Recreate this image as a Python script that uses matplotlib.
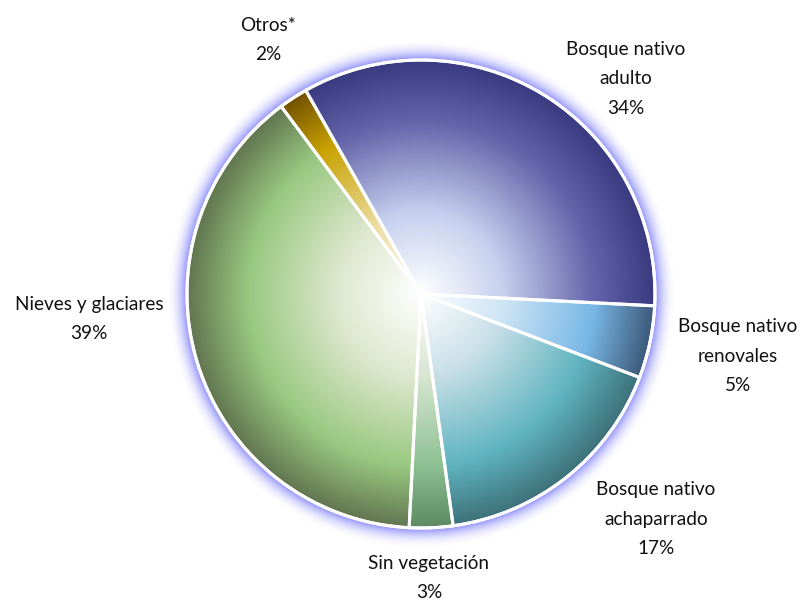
import numpy as np
import matplotlib
matplotlib.use("Agg")
import matplotlib.pyplot as plt
from matplotlib import font_manager
from matplotlib.colors import LinearSegmentedColormap, to_rgb

# ==============================
# Data
# ==============================
categories = ["Bosque nativo\nadulto", "Otros*", "Nieves y glaciares",
              "Sin vegetación", "Bosque nativo\nachaparrado", "Bosque nativo\nrenovales"]
shares = [34, 2, 39, 3, 17, 5]
pct_labels = ["34%", "2%", "39%", "3%", "17%", "5%"]

# colours: light inner tone, mid tone and dark rim tone for each slice
inner_colors = ["#c6d0ee", "#ecdca0", "#dfe8cf", "#d8e6d2", "#c8dfe8", "#cfe5f5"]
base_colors = ["#6464aa", "#c9a200", "#98c880", "#8cc092", "#5fb4bf", "#78b8e6"]
rim_colors = ["#3a3a80", "#735200", "#627650", "#5d8a62", "#3e727a", "#3e5a7a"]

# label anchor positions (pixels, top-left origin)
label_pos = [(626, 79), (268, 40), (89, 319), (429, 578), (656, 519), (738, 356)]

W, H = 801, 601
cx, cy, R = 421, 601 - 294, 234
start_angle = -2.9

available = {f.name for f in font_manager.fontManager.ttflist}
font = "Lato" if "Lato" in available else "DejaVu Sans"
plt.rcParams['font.family'] = [font, 'DejaVu Sans']

fig = plt.figure(figsize=(W / 100, H / 100), dpi=100)
ax = fig.add_axes([0, 0, 1, 1])

# ==============================
# Glow around the pie
# ==============================
pad = 50
xs = np.linspace(cx - R - pad, cx + R + pad, 700)
ys = np.linspace(cy - R - pad, cy + R + pad, 700)
XX, YY = np.meshgrid(xs, ys)
rr = np.hypot(XX - cx, YY - cy)
glow = np.zeros(rr.shape + (4,))
glow[..., :3] = to_rgb("#8484fa")
alpha = np.clip(1 - (rr - R) / 22.0, 0, 1) ** 2.2
alpha[rr < R] = 1
glow[..., 3] = alpha
ax.imshow(glow, extent=(xs[0], xs[-1], ys[0], ys[-1]), origin="lower",
          interpolation="bilinear", zorder=0)

# ==============================
# Pie with radial gradient fill
# ==============================
wedges, _ = ax.pie(shares, startangle=start_angle, counterclock=True,
                   center=(cx, cy), radius=R, frame=True,
                   wedgeprops=dict(facecolor="none", edgecolor="white", linewidth=2.2))
ax.set_xlim(0, W)
ax.set_ylim(0, H)
ax.set_aspect("equal")
ax.axis("off")

gx = np.linspace(cx - R, cx + R, 500)
gy = np.linspace(cy - R, cy + R, 500)
GX, GY = np.meshgrid(gx, gy)
t = np.clip(np.hypot(GX - cx, GY - cy) / R, 0, 1)

for w, inner, base, rim in zip(wedges, inner_colors, base_colors, rim_colors):
    cmap = LinearSegmentedColormap.from_list(
        "g", [(0, "#ffffff"), (0.35, inner), (0.74, base), (1.0, rim)])
    im = ax.imshow(t, cmap=cmap, vmin=0, vmax=1, origin="lower",
                   extent=(gx[0], gx[-1], gy[0], gy[-1]),
                   interpolation="bilinear", zorder=1)
    im.set_clip_path(w)
    w.set_zorder(2)

outline = plt.Circle((cx, cy), R, facecolor="none", edgecolor="white", lw=2.2, zorder=3)
ax.add_patch(outline)

# ==============================
# Labels
# ==============================
for name, pct, (lx, ly) in zip(categories, pct_labels, label_pos):
    ax.text(lx, H - ly, name + "\n" + pct, ha="center", va="center",
            fontsize=13.7, color="#111111", linespacing=1.9)

fig.savefig("out.png", dpi=100)
